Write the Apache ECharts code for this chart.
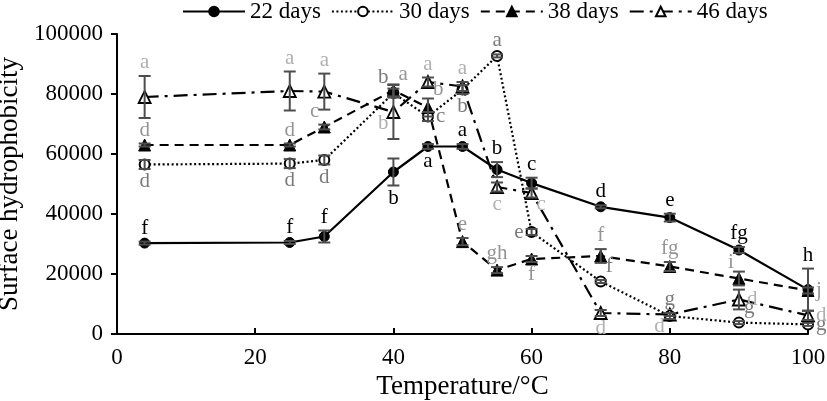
<!DOCTYPE html>
<html>
<head>
<meta charset="utf-8">
<script src="https://cdn.jsdelivr.net/npm/echarts@6/dist/echarts.min.js"></script>
<style>html,body{margin:0;padding:0;background:#fff}#c{width:827px;height:401px}</style>
</head>
<body>
<div id="c"></div>
<script>
// ---- data ----
var temps = [4, 25, 30, 40, 45, 50, 55, 60, 70, 80, 90, 100];
var xTicks = [0, 20, 40, 60, 80, 100];
var yTicks = [0, 20000, 40000, 60000, 80000, 100000];
var seriesNames = ['22 days', '30 days', '38 days', '46 days'];

var d22 = [30300, 30500, 32500, 54000, 62500, 62500, 54800, 50300, 42400, 38800, 28000, 14800];
var e22 = [500, 500, 2000, 4500, 800, 800, 2500, 1800, 500, 1300, 1000, 7000];
var l22 = ['f', 'f', 'f', 'b', 'a', 'a', 'b', 'c', 'd', 'e', 'fg', 'h'];

var d30 = [56500, 56800, 58000, 80300, 72500, 81500, 92700, 34000, 17500, 6000, 3800, 3200];
var e30 = [1500, 1500, 1500, 1500, 1500, 1500, 500, 1000, 500, 1000, 500, 500];
var l30 = ['d', 'd', 'd', 'b', 'c', 'b', 'a', 'e', 'f', 'g', 'g', 'g'];

var d38 = [63000, 63000, 69000, 81200, 75500, 30800, 21300, 25000, 26000, 22500, 18500, 14500];
var e38 = [500, 500, 800, 2000, 3000, 1200, 1000, 1000, 2300, 1500, 2300, 1000];
var l38 = ['d', 'd', 'c', 'a', 'b', 'e', 'gh', 'f', 'f', 'fg', 'i', 'j'];

var d46 = [79000, 81000, 80800, 74000, 84000, 82500, 49000, 47000, 7000, 6500, 11500, 6200];
var e46 = [7000, 6500, 6000, 9000, 1500, 1500, 1500, 1500, 1000, 500, 3300, 1500];
var l46 = ['a', 'a', 'a', 'b', 'a', 'a', 'c', 'c', 'd', 'd', 'd', 'd'];

// ---- label placement (style) ----
var place22 = ['T','T','T','B','B','T','T','T','T','T','T','T'];
var place30 = ['B','B','B','TL','R','B','T','L','TR','T','TR','R'];
var place38 = ['T','T','TL','TR','TR','T','T','B','T','T','TL','R'];
var place46 = ['T','T','T','BL','T','T','B','BR','B','BL','R','R'];

var FONT = '"Liberation Serif", "Times New Roman", serif';
var ERR_COLOR = '#4d4d4d';

function pairs(vals) { return temps.map(function (t, i) { return [t, vals[i]]; }); }

function errSeries(vals, errs, labels, places, color) {
  return {
    type: 'custom',
    coordinateSystem: 'cartesian2d',
    clip: false,
    silent: true,
    z: 5,
    encode: { x: 0, y: 1 },
    data: temps.map(function (t, i) { return [t, vals[i], errs[i], i]; }),
    renderItem: function (params, api) {
      var x = api.value(0), y = api.value(1), e = api.value(2), i = api.value(3);
      var p = api.coord([x, y]);
      var top = api.coord([x, y + e]);
      var bot = api.coord([x, y - e]);
      var cw = 6;
      var ls = { stroke: ERR_COLOR, lineWidth: 2 };
      var children = [
        { type: 'line', shape: { x1: p[0], y1: top[1], x2: p[0], y2: bot[1] }, style: ls },
        { type: 'line', shape: { x1: p[0] - cw, y1: top[1], x2: p[0] + cw, y2: top[1] }, style: ls },
        { type: 'line', shape: { x1: p[0] - cw, y1: bot[1], x2: p[0] + cw, y2: bot[1] }, style: ls }
      ];
      var pl = places[i], tx = p[0], ty = p[1], al = 'center', va = 'middle';
      if (pl === 'T') { ty = top[1] - 3; va = 'bottom'; }
      else if (pl === 'B') { ty = bot[1] + 2; va = 'top'; }
      else if (pl === 'R') { tx = p[0] + 8; al = 'left'; }
      else if (pl === 'L') { tx = p[0] - 8; al = 'right'; }
      else if (pl === 'TL') { tx = p[0] - 5; ty = Math.min(top[1], p[1] - 6) + 1; al = 'right'; va = 'bottom'; }
      else if (pl === 'TR') { tx = p[0] + 5; ty = Math.min(top[1], p[1] - 6) + 1; al = 'left'; va = 'bottom'; }
      else if (pl === 'BL') { tx = p[0] - 5; ty = p[1] + 1; al = 'right'; va = 'top'; }
      else if (pl === 'BR') { tx = p[0] + 5; ty = p[1] + 1; al = 'left'; va = 'top'; }
      children.push({
        type: 'text',
        style: { text: labels[i], x: tx, y: ty, align: al, verticalAlign: va,
                 fill: color, font: '21px ' + FONT }
      });
      return { type: 'group', children: children };
    }
  };
}

var chart = echarts.init(document.getElementById('c'), null, { renderer: 'canvas' });
chart.setOption({
  animation: false,
  backgroundColor: '#fff',
  legend: {
    data: seriesNames,
    top: -5,
    left: 177,
    itemWidth: 62,
    itemHeight: 12,
    itemGap: 10,
    textStyle: { fontFamily: FONT, fontSize: 23, color: '#000' }
  },
  grid: { left: 117, right: 19, top: 34, bottom: 67, containLabel: false, outerBoundsMode: 'none' },
  xAxis: {
    type: 'value', min: xTicks[0], max: xTicks[xTicks.length - 1], interval: xTicks[1] - xTicks[0],
    name: 'Temperature/°C', nameLocation: 'middle', nameGap: 37,
    nameTextStyle: { fontFamily: FONT, fontSize: 27, color: '#000' },
    axisLine: { lineStyle: { color: '#000', width: 2 } },
    axisTick: { inside: true, length: 6, lineStyle: { color: '#000', width: 2 } },
    axisLabel: { fontFamily: FONT, fontSize: 23, color: '#000', margin: 12 },
    splitLine: { show: false }
  },
  yAxis: {
    type: 'value', min: yTicks[0], max: yTicks[yTicks.length - 1], interval: yTicks[1] - yTicks[0],
    name: 'Surface hydrophobicity', nameLocation: 'middle', nameGap: 80,
    nameTextStyle: { fontFamily: FONT, fontSize: 27, color: '#000' },
    axisLine: { show: true, lineStyle: { color: '#000', width: 2 } },
    axisTick: { show: true, inside: false, length: 6, lineStyle: { color: '#000', width: 2 } },
    axisLabel: { fontFamily: FONT, fontSize: 23, color: '#000', margin: 14,
                 formatter: function (v) { return String(v); } },
    splitLine: { show: false }
  },
  series: [
    {
      name: seriesNames[0], type: 'line', data: pairs(d22), z: 4,
      symbol: 'circle', symbolSize: 10,
      lineStyle: { color: '#000', width: 2.2, type: 'solid' },
      itemStyle: { color: '#000', borderColor: '#000', borderWidth: 1 }
    },
    {
      name: seriesNames[1], type: 'line', data: pairs(d30), z: 4,
      symbol: 'circle', symbolSize: 10,
      lineStyle: { color: '#000', width: 2.2, type: [2, 2.5] },
      itemStyle: { color: '#fff', borderColor: '#000', borderWidth: 2 }
    },
    {
      name: seriesNames[2], type: 'line', data: pairs(d38), z: 4,
      symbol: 'triangle', symbolSize: 12,
      lineStyle: { color: '#000', width: 2.2, type: [9, 6] },
      itemStyle: { color: '#000', borderColor: '#000', borderWidth: 1 }
    },
    {
      name: seriesNames[3], type: 'line', data: pairs(d46), z: 4,
      symbol: 'triangle', symbolSize: 12,
      lineStyle: { color: '#000', width: 2.2, type: [14, 6, 3, 6] },
      itemStyle: { color: '#fff', borderColor: '#000', borderWidth: 1.8 }
    },
    errSeries(d22, e22, l22, place22, '#000'),
    errSeries(d30, e30, l30, place30, '#7a7a7a'),
    errSeries(d38, e38, l38, place38, '#959595'),
    errSeries(d46, e46, l46, place46, '#b0b0b0')
  ]
});
</script>
</body>
</html>
